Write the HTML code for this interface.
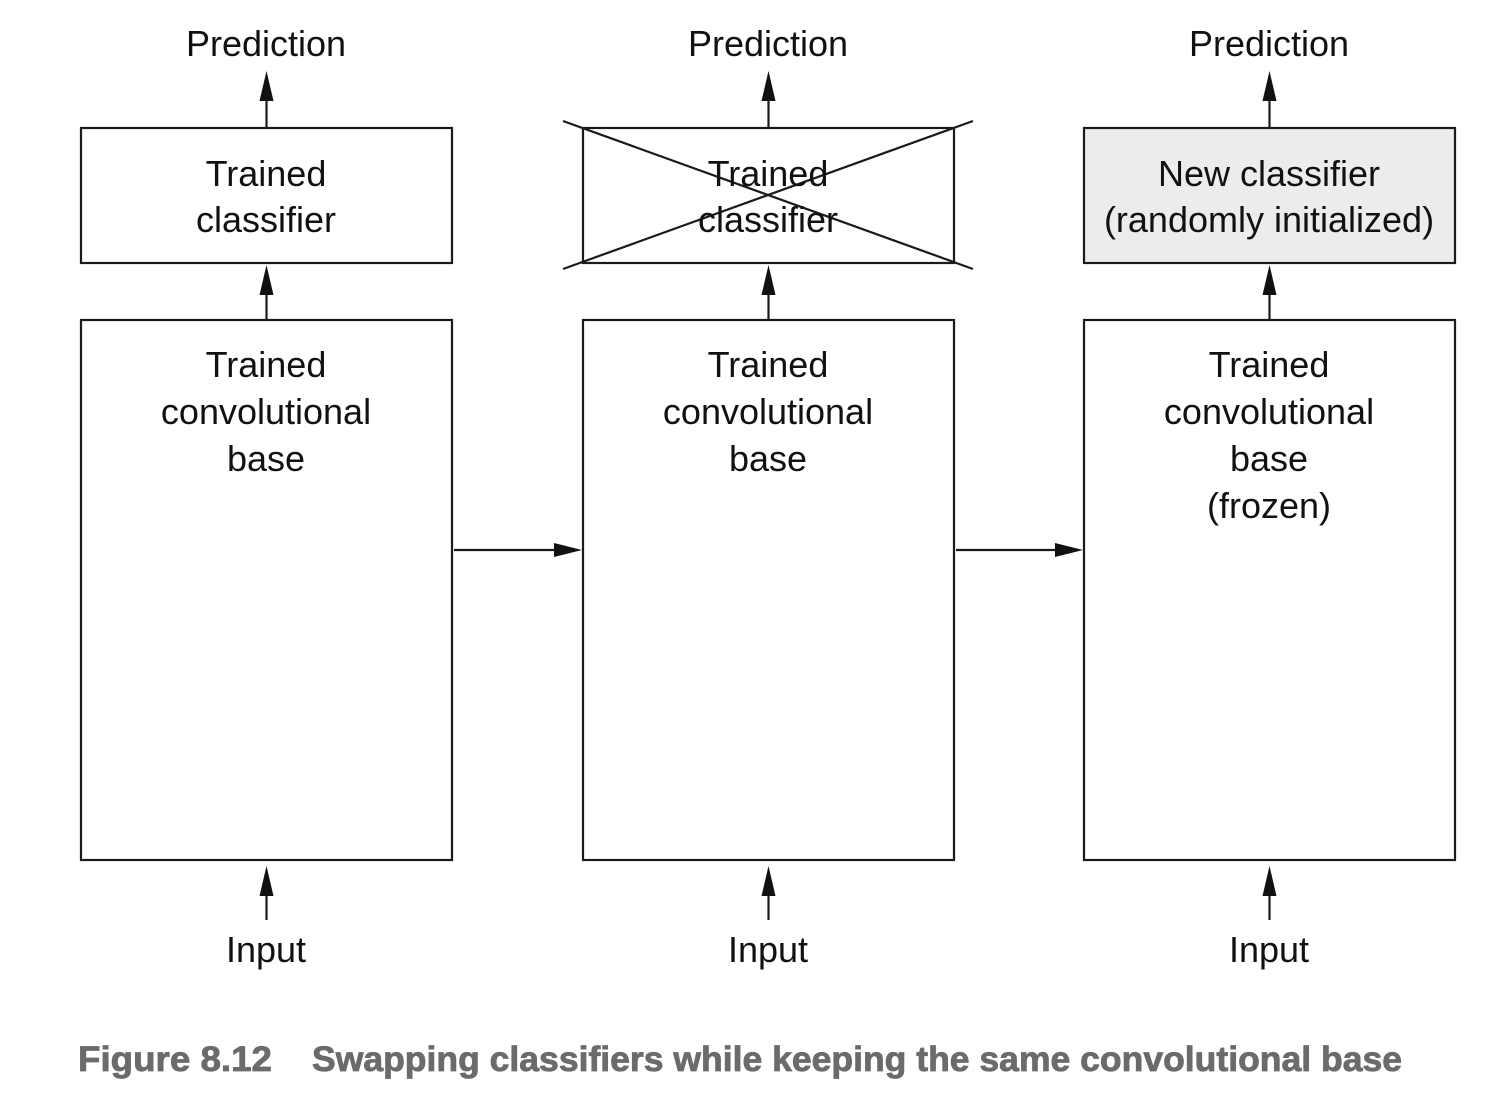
<!DOCTYPE html>
<html><head><style>
html,body{margin:0;padding:0;background:#fff;}
svg text{font-family:"Liberation Sans",sans-serif;}
</style></head><body>
<svg width="1502" height="1112" viewBox="0 0 1502 1112" xmlns="http://www.w3.org/2000/svg">
<g stroke="#1a1a1a" stroke-width="2.2" fill="#fff">
<rect x="81" y="128" width="371" height="135"/>
<rect x="583" y="128" width="371" height="135"/>
<rect x="1084" y="128" width="371" height="135" fill="#ececec"/>
<rect x="81" y="320" width="371" height="540"/>
<rect x="583" y="320" width="371" height="540"/>
<rect x="1084" y="320" width="371" height="540"/>
<line x1="563" y1="121" x2="973" y2="269"/>
<line x1="563" y1="269" x2="973" y2="121"/>
<line x1="266.5" y1="128" x2="266.5" y2="95"/>
<line x1="768.5" y1="128" x2="768.5" y2="95"/>
<line x1="1269.5" y1="128" x2="1269.5" y2="95"/>
<line x1="266.5" y1="320" x2="266.5" y2="290"/>
<line x1="768.5" y1="320" x2="768.5" y2="290"/>
<line x1="1269.5" y1="320" x2="1269.5" y2="290"/>
<line x1="266.5" y1="920" x2="266.5" y2="890"/>
<line x1="768.5" y1="920" x2="768.5" y2="890"/>
<line x1="1269.5" y1="920" x2="1269.5" y2="890"/>
<line x1="454" y1="550" x2="560" y2="550"/>
<line x1="956" y1="550" x2="1060" y2="550"/>
</g>
<g fill="#111">
<polygon points="266.5,71 259.5,101 273.5,101"/>
<polygon points="768.5,71 761.5,101 775.5,101"/>
<polygon points="1269.5,71 1262.5,101 1276.5,101"/>
<polygon points="266.5,265 259.5,295 273.5,295"/>
<polygon points="768.5,265 761.5,295 775.5,295"/>
<polygon points="1269.5,265 1262.5,295 1276.5,295"/>
<polygon points="266.5,866 259.5,896 273.5,896"/>
<polygon points="768.5,866 761.5,896 775.5,896"/>
<polygon points="1269.5,866 1262.5,896 1276.5,896"/>
<polygon points="582,550 554,543 554,557"/>
<polygon points="1083,550 1055,543 1055,557"/>
</g>
<g font-size="36" fill="#111" text-anchor="middle">
<text x="266" y="56">Prediction</text>
<text x="768" y="56">Prediction</text>
<text x="1269" y="56">Prediction</text>
<text x="266" y="186">Trained</text>
<text x="266" y="232">classifier</text>
<text x="768" y="186">Trained</text>
<text x="768" y="232">classifier</text>
<text x="1269" y="186">New classifier</text>
<text x="1269" y="232">(randomly initialized)</text>
<text x="266" y="377">Trained</text>
<text x="266" y="424">convolutional</text>
<text x="266" y="471">base</text>
<text x="768" y="377">Trained</text>
<text x="768" y="424">convolutional</text>
<text x="768" y="471">base</text>
<text x="1269" y="377">Trained</text>
<text x="1269" y="424">convolutional</text>
<text x="1269" y="471">base</text>
<text x="1269" y="518">(frozen)</text>
<text x="266" y="962">Input</text>
<text x="768" y="962">Input</text>
<text x="1269" y="962">Input</text>
</g>
<g font-size="35" font-weight="bold" fill="#6b6b6b" stroke="#6b6b6b" stroke-width="0.8">
<text x="78" y="1071" textLength="194" lengthAdjust="spacingAndGlyphs">Figure 8.12</text>
<text x="312" y="1071" textLength="1090" lengthAdjust="spacingAndGlyphs">Swapping classifiers while keeping the same convolutional base</text>
</g>
</svg>
</body></html>
